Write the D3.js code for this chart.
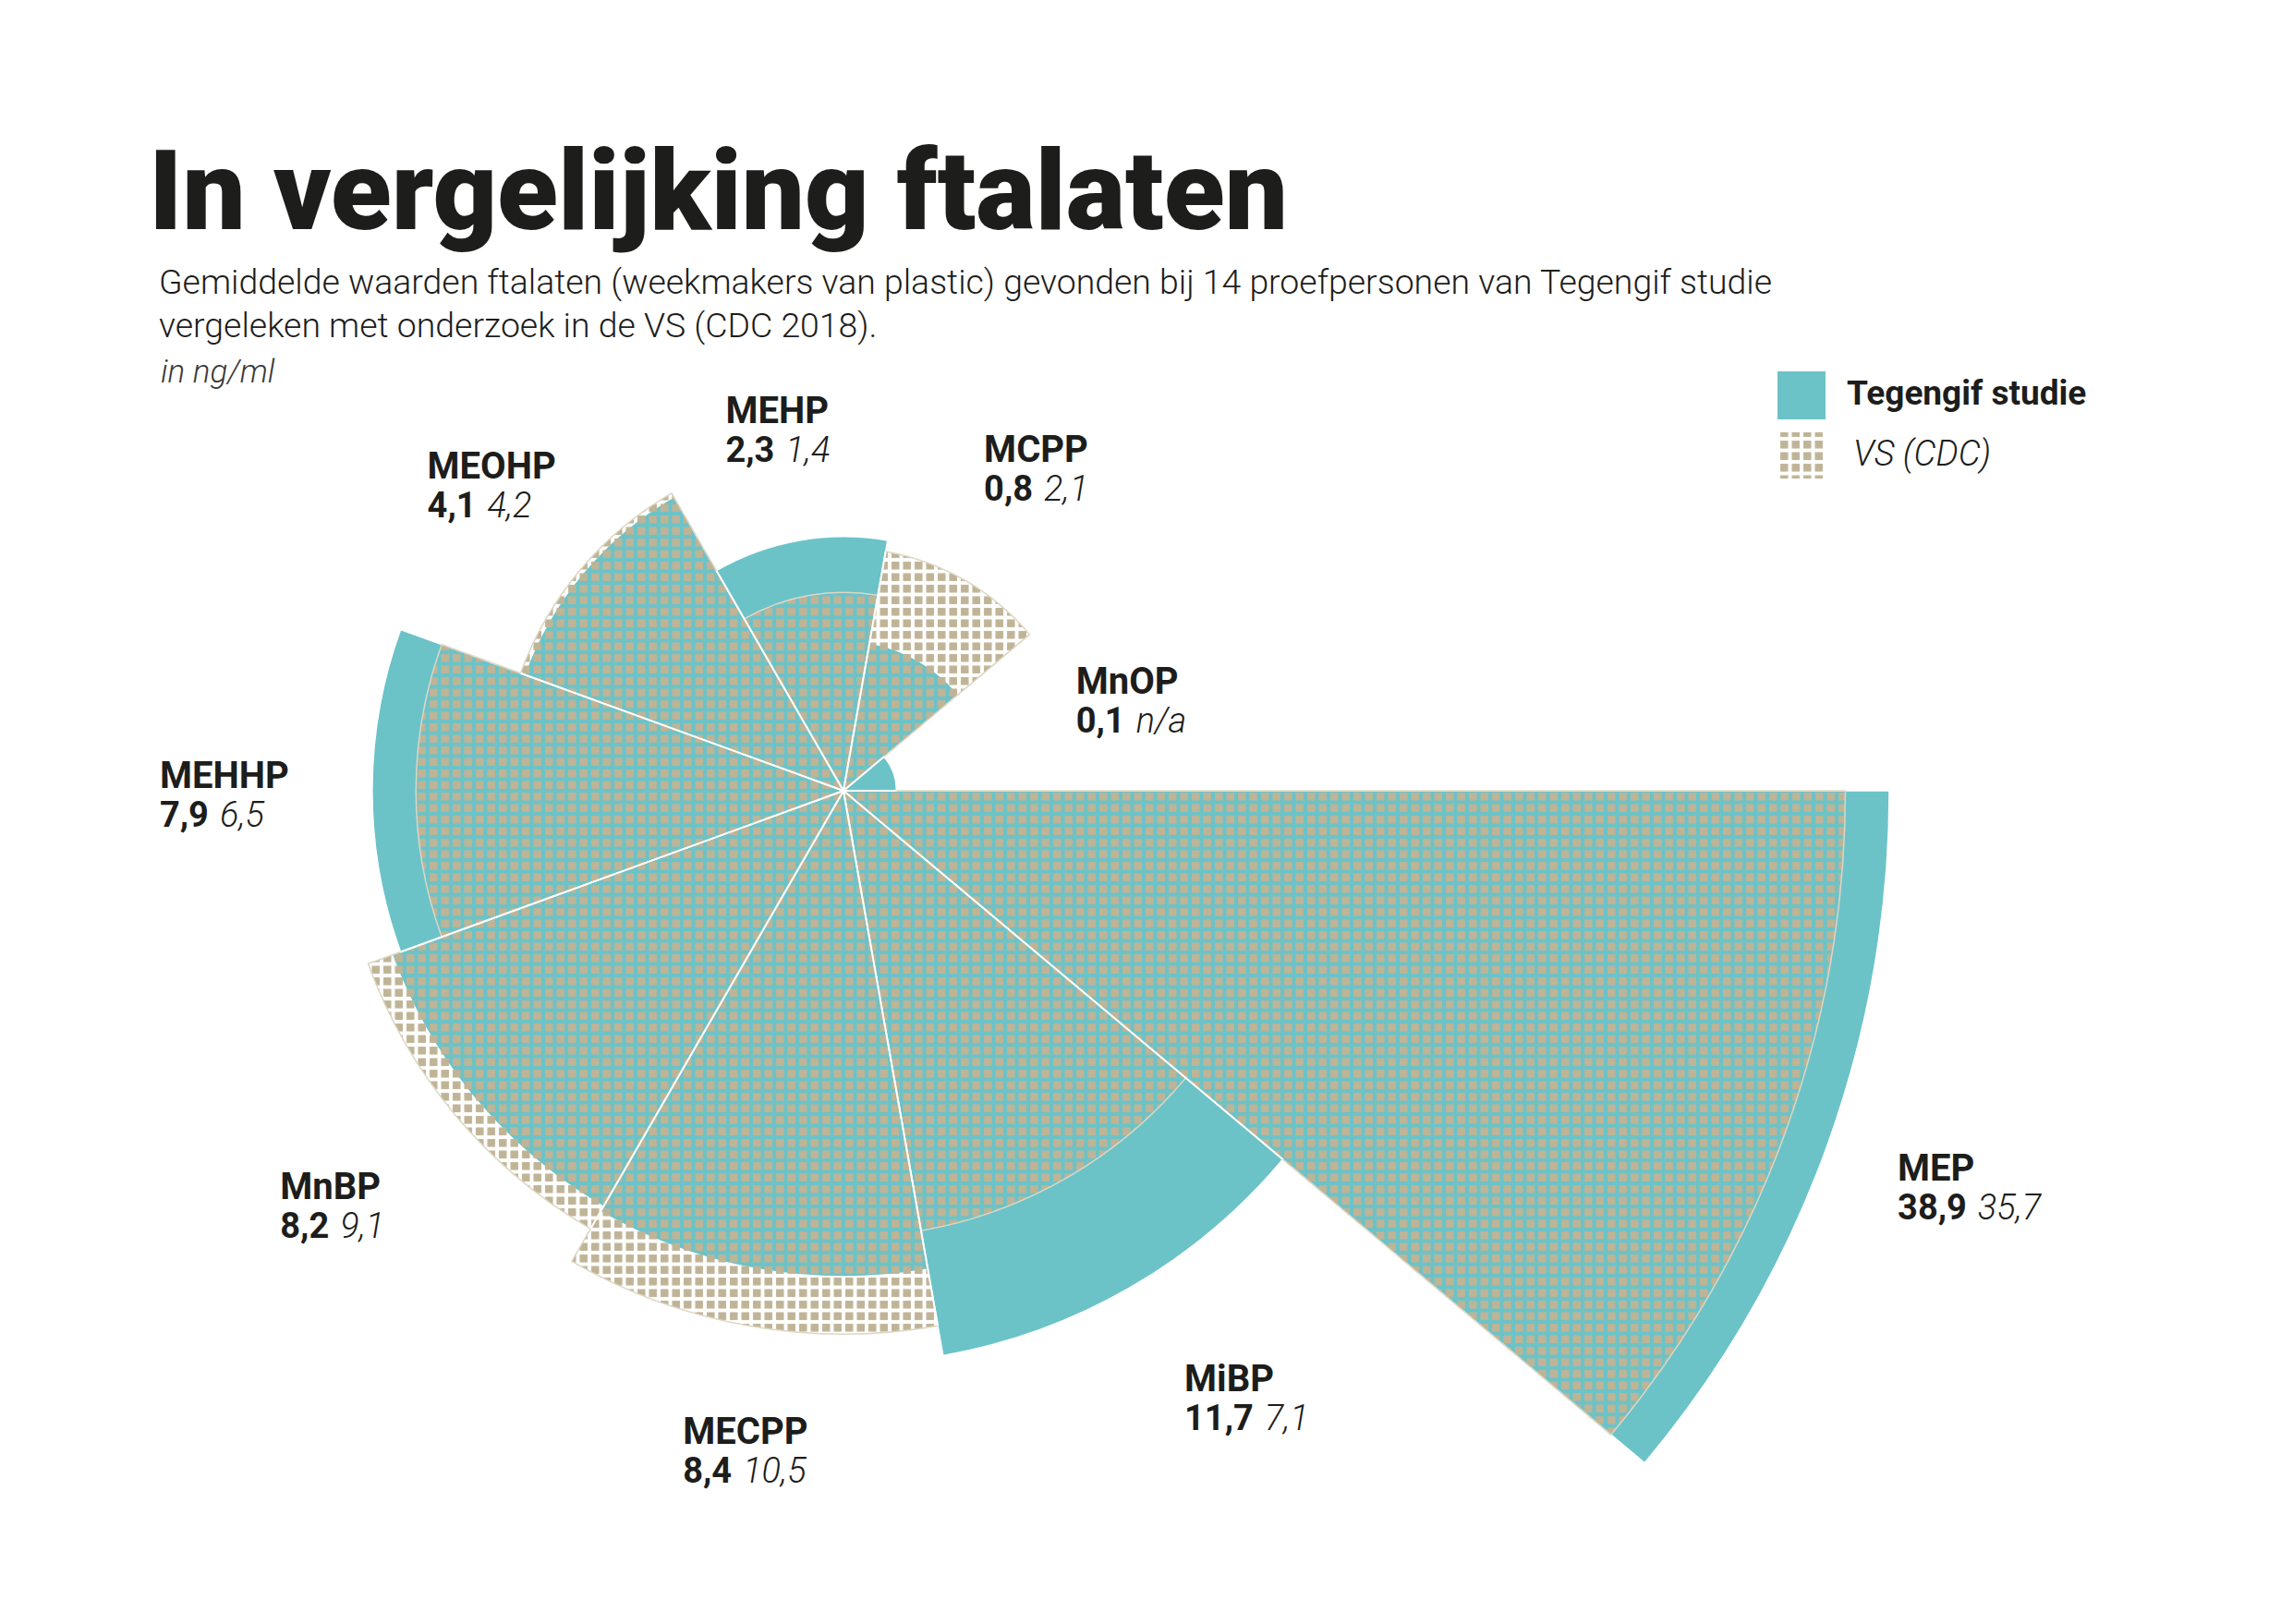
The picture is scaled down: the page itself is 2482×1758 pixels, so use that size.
<!DOCTYPE html>
<html><head><meta charset="utf-8">
<script src="https://cdn.jsdelivr.net/npm/d3@7"></script>
<style>
html,body{margin:0;padding:0;background:#fff;}
svg{display:block;}
text{font-family:Roboto,"Noto Sans",sans-serif;fill:#1d1d1b;}
</style></head><body>
<svg id="chart" width="2482" height="1758"></svg>
<script>
// ---- data ----
const categories = ["MEP","MiBP","MECPP","MnBP","MEHHP","MEOHP","MEHP","MCPP","MnOP"];
const tegengif   = [38.9, 11.7, 8.4, 8.2, 7.9, 4.1, 2.3, 0.8, 0.1];
const vsCdc      = [35.7, 7.1, 10.5, 9.1, 6.5, 4.2, 1.4, 2.1, null];
const legendLabels = ["Tegengif studie", "VS (CDC)"];
const titleText = "In vergelijking ftalaten";
const subtitleLines = [
  "Gemiddelde waarden ftalaten (weekmakers van plastic) gevonden bij 14 proefpersonen van Tegengif studie",
  "vergeleken met onderzoek in de VS (CDC 2018)."
];
const unitText = "in ng/ml";
const naText = "n/a";

// ---- layout ----
const cx = 913, cy = 856, maxR = 1132;
const teal = "#6bc3c8", beige = "#bfb496";
const labelNudge = {MEP:[8,-10], MiBP:[45,-12], MECPP:[22,-14], MnBP:[-21,0], MEHHP:[-10,3],
                    MEOHP:[19,4], MEHP:[2,27], MCPP:[2,8], MnOP:[-3,14]};

const svg = d3.select("#chart");
svg.append("rect").attr("width",2482).attr("height",1758).attr("fill","#fff");
const defs = svg.append("defs");
const pat = defs.append("pattern").attr("id","cdc")
  .attr("patternUnits","userSpaceOnUse").attr("width",12.5).attr("height",12.5);
pat.append("rect").attr("x",2).attr("y",2).attr("width",8.5).attr("height",8.5).attr("fill",beige);

const fmt = v => d3.format(".1f")(v).replace(".", ",");

// titles
svg.append("text").attr("x",161).attr("y",248)
  .style("font-size","121px").style("font-weight",900)
  .text(titleText);
subtitleLines.forEach((t,i)=>{
  svg.append("text").attr("x",172).attr("y",318+i*47)
    .style("font-size","37.4px").style("font-weight",300).text(t);
});
svg.append("text").attr("x",174).attr("y",414)
  .style("font-size","35px").style("font-weight",300).style("font-style","italic")
  .style("fill","#3a3a3a").text(unitText);

// scales
const maxVal = d3.max(tegengif.concat(vsCdc.filter(v=>v!=null)));
const r = d3.scaleSqrt().domain([0, maxVal]).range([0, maxR]);
const ang = d3.scaleBand().domain(categories).range([Math.PI/2, Math.PI/2 + 2*Math.PI]);
const bw = ang.bandwidth();

const arc = d3.arc().innerRadius(0)
  .outerRadius(d => r(d.v))
  .startAngle(d => ang(d.c))
  .endAngle(d => ang(d.c) + bw);

const g = svg.append("g").attr("transform",`translate(${cx},${cy})`);

const tegData = categories.map((c,i)=>({c, v:tegengif[i]}));
const vsData = categories.map((c,i)=>({c, v:vsCdc[i]})).filter(d=>d.v!=null);

g.selectAll("path.teg").data(tegData).join("path").attr("class","teg")
  .attr("d", arc).attr("fill", teal)
  .attr("stroke","#fff").attr("stroke-width",1.5).attr("stroke-linejoin","round");

g.selectAll("path.vs").data(vsData).join("path").attr("class","vs")
  .attr("d", arc).attr("fill","url(#cdc)")
  .attr("stroke","#ddd6c3").attr("stroke-width",1.5).attr("stroke-linejoin","round");

// white separators between neighbouring wedges
const outer = categories.map((c,i)=>Math.max(r(tegengif[i]), vsCdc[i]==null?0:r(vsCdc[i])));
const seps = categories.map((c,i)=>({a: ang(c), len: Math.min(outer[i], outer[(i+categories.length-1)%categories.length])}));
g.selectAll("line.sep").data(seps).join("line").attr("class","sep")
  .attr("x1",0).attr("y1",0)
  .attr("x2",d=>Math.sin(d.a)*d.len).attr("y2",d=>-Math.cos(d.a)*d.len)
  .attr("stroke","#fff").attr("stroke-width",2);

// labels
categories.forEach((c,i)=>{
  const lg = svg.append("g");
  const name = lg.append("text").attr("x",0).attr("y",0)
    .style("font-size","40px").style("font-weight",700).text(c);
  const vals = lg.append("text").attr("x",0).attr("y",42).style("font-size","38px");
  vals.append("tspan").style("font-weight",700).text(fmt(tegengif[i]));
  vals.append("tspan").style("font-weight",300).style("font-style","italic")
    .attr("dx",12).text(vsCdc[i]==null ? naText : fmt(vsCdc[i]));
  const w = Math.max(name.node().getComputedTextLength(), vals.node().getComputedTextLength());
  const rm = Math.max(outer[i], 180) + 150;
  const a = ang(c) + bw/2;
  const nx = labelNudge[c] ? labelNudge[c][0] : 0;
  const ny = labelNudge[c] ? labelNudge[c][1] : 0;
  const bx = cx + Math.sin(a)*rm + nx;
  const by = cy - Math.cos(a)*rm + ny;
  lg.attr("transform",`translate(${bx - w/2},${by - 6})`);
});

// legend
const lgd = svg.append("g");
lgd.append("rect").attr("x",1924).attr("y",402).attr("width",52).attr("height",52).attr("fill",teal);
lgd.append("rect").attr("x",1924).attr("y",468).attr("width",52).attr("height",50).attr("fill","url(#cdc)");
lgd.append("text").attr("x",1999).attr("y",438)
  .style("font-size","37px").style("font-weight",700).text(legendLabels[0]);
lgd.append("text").attr("x",2006).attr("y",504)
  .style("font-size","38px").style("font-weight",300).style("font-style","italic").text(legendLabels[1]);
</script>
</body></html>
